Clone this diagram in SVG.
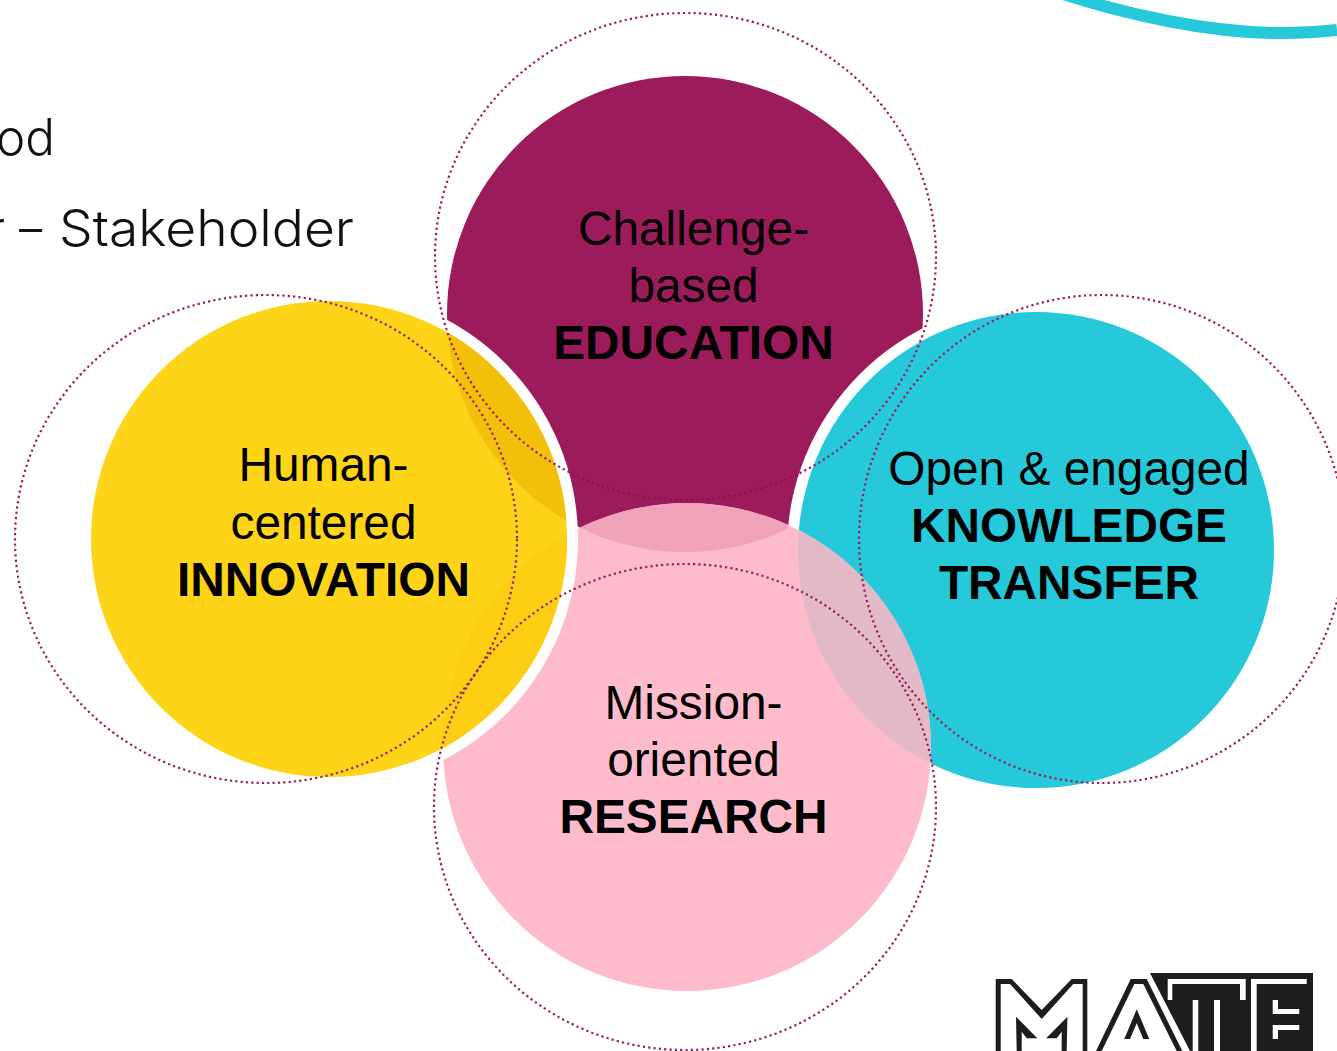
<svg xmlns="http://www.w3.org/2000/svg" width="1337" height="1051" viewBox="0 0 1337 1051">
<style>
.t{font-family:"Liberation Sans",Arial,sans-serif;font-size:47.8px;fill:#000;text-anchor:middle}
.b{font-weight:700}
.s{font-family:Inter,Lato,"Open Sans",sans-serif;font-weight:300;font-size:50px;fill:#111}
.dot{fill:none;stroke:#9C1C5B;stroke-width:2.2;stroke-dasharray:2.2 3.15}
.dotd{stroke:#84134C}
.ring{fill:#fff}
.lg{fill:#1d1d1b}
.lw{fill:#fff}
</style>
<defs>
<clipPath id="cE"><circle cx="685" cy="314" r="238"/></clipPath>
<clipPath id="cP"><circle cx="687" cy="747" r="244"/></clipPath>
<clipPath id="cEL"><rect x="400" y="400" width="387.5" height="300"/></clipPath>
<clipPath id="cB"><rect x="571" y="470" width="222" height="60"/></clipPath>
</defs>
<rect width="1337" height="1051" fill="#fff"/>
<path d="M1054,-9 C1126,15 1210,33 1280,33 C1300,33 1320,32 1337,30" fill="none" stroke="#25C9DA" stroke-width="12"/>
<text class="s" x="-4" y="155" textLength="59" lengthAdjust="spacingAndGlyphs">od</text>
<text class="s" x="-12" y="246" textLength="17" lengthAdjust="spacingAndGlyphs">r</text>
<text class="s" x="19" y="246" textLength="23" lengthAdjust="spacingAndGlyphs">–</text>
<text class="s" x="59" y="246" textLength="295" lengthAdjust="spacingAndGlyphs">Stakeholder</text>

<g id="node-education">
<circle cx="685" cy="314" r="238" fill="#9C1C5B"/>
</g>
<g id="node-transfer">
<circle class="ring" cx="1036" cy="550" r="249"/>
<circle cx="1036" cy="550" r="238" fill="#25C9DA"/>
</g>
<g id="node-research">
<circle cx="687" cy="747" r="244" fill="#FDBBCB"/>
<g clip-path="url(#cEL)"><circle cx="685" cy="314" r="238" fill="#F0A3B8" clip-path="url(#cP)"/></g>
<circle cx="1036" cy="550" r="238" fill="#E2B9C7" clip-path="url(#cP)"/>
</g>
<g id="node-innovation">
<circle class="ring" cx="329" cy="539" r="249"/>
<circle cx="329" cy="539" r="238" fill="#FDD418"/>
<circle cx="329" cy="539" r="238" fill="#F2BF0B" clip-path="url(#cE)"/>
<circle cx="329" cy="539" r="238" fill="#FDCE14" clip-path="url(#cP)"/>
</g>
<g id="connectors">
<ellipse class="dot" cx="685.5" cy="256.5" rx="250.5" ry="243.5"/>
<g clip-path="url(#cB)"><ellipse class="dot dotd" cx="685.5" cy="256.5" rx="250.5" ry="243.5"/></g>
<ellipse class="dot" cx="266" cy="539" rx="251" ry="244"/>
<ellipse class="dot" cx="1102" cy="539" rx="243" ry="244"/>
<ellipse class="dot" cx="685" cy="807" rx="251" ry="243"/>
</g>
<g id="label-education">
<text class="t" x="693.5" y="245">Challenge-</text>
<text class="t" x="693.5" y="302">based</text>
<text class="t b" x="693.5" y="359">EDUCATION</text>
</g>
<g id="label-innovation">
<text class="t" x="323.5" y="481">Human-</text>
<text class="t" x="323.5" y="538.5">centered</text>
<text class="t b" x="323.5" y="595.5">INNOVATION</text>
</g>
<g id="label-transfer">
<text class="t" x="1069" y="485">Open &amp; engaged</text>
<text class="t b" x="1069" y="542">KNOWLEDGE</text>
<text class="t b" x="1069" y="599">TRANSFER</text>
</g>
<g id="label-research">
<text class="t" x="693.5" y="719">Mission-</text>
<text class="t" x="693.5" y="776">oriented</text>
<text class="t b" x="693.5" y="833">RESEARCH</text>
</g>
<g id="logo">
<polygon class="lg" points="995.7,979 1011.7,979 1041.7,1010 1071.7,979 1087.3,979 1087.3,1051 1082.7,1051 1082.7,984 1073.3,984 1041.7,1019 1010,984 1000.7,984 1000.7,1051 995.7,1051"/>
<polygon class="lg" points="1016,1016.7 1037.3,1038.3 1026.7,1038.3 1021.7,1031.7 1021.7,1051 1016.7,1051"/>
<polygon class="lg" points="1067.4,1016.7 1046.1,1038.3 1056.7,1038.3 1061.7,1031.7 1061.7,1051 1066.7,1051"/>
<polygon class="lg" points="1130.7,979 1146.7,979 1182.3,1051 1176.7,1051 1143.3,984 1134.3,984 1101.7,1051 1096,1051"/>
<polygon class="lg" points="1136.7,1009.3 1149.3,1039 1143.3,1039 1136.7,1023.3 1130,1039 1124.3,1039"/>
<polygon class="lg" points="1150,973 1313,973 1313,1051 1190,1051"/>
<path class="lw" d="M1167.7,979H1245.7V1000H1240V984H1172.3V1000H1167.7Z"/>
<rect class="lw" x="1192.7" y="1000" width="5.6" height="51"/>
<rect class="lw" x="1214" y="1000" width="6" height="51"/>
<path class="lw" d="M1251,979H1306.7V984H1256.7V1051H1251Z"/>
<path class="lw" d="M1272.7,1000H1278V1009H1299.3V1014H1272.7Z"/>
<path class="lw" d="M1272.7,1025H1299.3V1030H1278V1039H1272.7Z"/>
</g>
</svg>
